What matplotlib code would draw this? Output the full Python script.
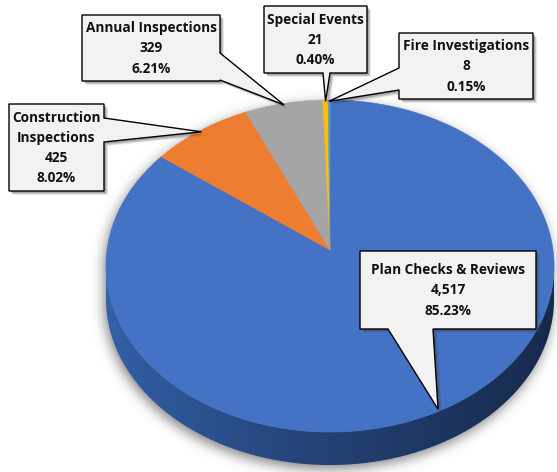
import numpy as np
import matplotlib
matplotlib.use("Agg")
import matplotlib.pyplot as plt
from matplotlib.patches import Polygon, PathPatch
from matplotlib.path import Path
from matplotlib.colors import to_rgb

# ---------------- data ----------------
categories = ["Plan Checks & Reviews", "Construction Inspections", "Annual Inspections",
              "Special Events", "Fire Investigations"]
label_names = ["Plan Checks & Reviews", "Construction\nInspections", "Annual Inspections",
               "Special Events", "Fire Investigations"]
values = [4517, 425, 329, 21, 8]
colors = ["#4472C4", "#ED7D31", "#A5A5A5", "#FFC000", "#5B9BD5"]

# ---------------- geometry (pixel space) ----------------
W, H = 557, 472
cx, cy = 330.0, 250.0      # projected pie centre
A, B, K = 223.0, 164.5, 0.0964   # perspective ellipse params
DEPTH = 33.0


def proj(u, v, dz=0.0):
    w = 1.0 + K * v
    return cx + A * u / w, cy - B * v / w + dz


fig = plt.figure(figsize=(W / 100, H / 100), dpi=100)
ax = fig.add_axes([0, 0, 1, 1])
ax.set_xlim(0, W)
ax.set_ylim(H, 0)
ax.axis("off")

# outline / side
t = np.linspace(0, 2 * np.pi, 2000)
ox, oy = proj(np.cos(t), np.sin(t))
il, ir = np.argmin(ox), np.argmax(ox)
tl, tr = t[il], t[ir]
ts = np.linspace(tl, tr + (2 * np.pi if tr < tl else 0), 600)
sx, sy = proj(np.cos(ts), np.sin(ts))
bx, by = proj(np.cos(ts), np.sin(ts), DEPTH)
side_xy = np.vstack([np.column_stack([sx, sy]), np.column_stack([bx, by])[::-1]])
top_xy = np.column_stack([ox, oy])

# shadow (blurred silhouette)
gx, gy = np.meshgrid(np.arange(W) + 0.5, np.arange(H) + 0.5)
pts = np.column_stack([gx.ravel(), gy.ravel()])
off = np.array([2.0, -4.0])
mask = (Path(top_xy).contains_points(pts + off) | Path(side_xy).contains_points(pts + off))
mask = mask.reshape(H, W).astype(float)
sig = 6.0
kx = np.arange(-22, 23)
ker = np.exp(-kx ** 2 / (2 * sig ** 2)); ker /= ker.sum()
bl = np.apply_along_axis(lambda r: np.convolve(r, ker, mode="same"), 1, mask)
bl = np.apply_along_axis(lambda c: np.convolve(c, ker, mode="same"), 0, bl)
shadow = np.zeros((H, W, 4))
shadow[..., :3] = 0.40
shadow[..., 3] = np.clip(bl * 0.8, 0, 1)
ax.imshow(shadow, extent=(0, W, H, 0), zorder=1, interpolation="bilinear")

# side with horizontal gradient
c_l = np.array(to_rgb("#3461AA"))
c_r = np.array(to_rgb("#172A4C"))
xs = np.linspace(0, 1, 400) ** 0.8
grad = (c_l[None, :] * (1 - xs[:, None]) + c_r[None, :] * xs[:, None])[None, :, :]
side_patch = PathPatch(Path(side_xy), facecolor="none", edgecolor="none")
ax.add_patch(side_patch)
x_min, x_max = ox.min(), ox.max()
im = ax.imshow(grad, extent=(x_min, x_max, H, 0), aspect="auto", zorder=2,
               interpolation="bilinear")
im.set_clip_path(side_patch)
ax.set_xlim(0, W)
ax.set_ylim(H, 0)

# top-face slices (clockwise from 12 o'clock)
total = float(sum(values))
fracs = np.array(values) / total
starts = 90.0 - 360.0 * np.concatenate([[0], np.cumsum(fracs)[:-1]])
ends = starts - 360.0 * fracs
mids = []
for s, e, col in zip(starts, ends, colors):
    n = max(int(abs(s - e) * 4), 4)
    ang = np.radians(np.linspace(s, e, n))
    px, py = proj(np.cos(ang), np.sin(ang))
    poly = np.vstack([[cx, cy], np.column_stack([px, py])])
    ax.add_patch(Polygon(poly, closed=True, facecolor=col, edgecolor=col,
                         linewidth=0.4, zorder=3))
    mids.append(np.radians((s + e) / 2))

# ---------------- callouts ----------------
boxes = [(360, 251, 536, 329), (9, 104, 104, 191), (82, 15, 220, 81),
         (264, 6, 367, 73), (399, 33, 533, 99)]
sides = ["bottom", "right", "right", "bottom", "left"]
bases = [(388, 433), (118, 142), (53, 80), (323, 330), (68, 90)]


def callout_poly(box, side, base, tip):
    x0, y0, x1, y1 = box
    b1, b2 = base
    p = [(x0, y0), (x1, y0)]
    if side == "right":
        p += [(x1, b1), tip, (x1, b2)]
    p += [(x1, y1)]
    if side == "bottom":
        p += [(b2, y1), tip, (b1, y1)]
    p += [(x0, y1)]
    if side == "left":
        p += [(x0, b2), tip, (x0, b1)]
    return np.array(p, dtype=float)


for i, name in enumerate(label_names):
    m = mids[i]
    tip = proj(0.99 * np.cos(m), 0.99 * np.sin(m))
    poly = callout_poly(boxes[i], sides[i], bases[i], tip)
    for d, a in [(4, 0.12), (3, 0.18), (2, 0.25)]:
        ax.add_patch(Polygon(poly + np.array([d, d]), closed=True, facecolor="#404040",
                             edgecolor="none", alpha=a, zorder=4))
    ax.add_patch(Polygon(poly, closed=True, facecolor="#F2F2F2", edgecolor="#000000",
                         linewidth=1.0, joinstyle="miter", zorder=5))
    x0, y0, x1, y1 = boxes[i]
    txt = f"{name}\n{values[i]:,}\n{100 * values[i] / total:.2f}%"
    ax.text((x0 + x1) / 2, (y0 + y1) / 2 + 0.5, txt, ha="center", va="center",
            multialignment="center", fontsize=9.8, fontweight="bold",
            family="Open Sans", color="#111111", linespacing=1.55, zorder=6)

fig.savefig("out.png", dpi=100)
